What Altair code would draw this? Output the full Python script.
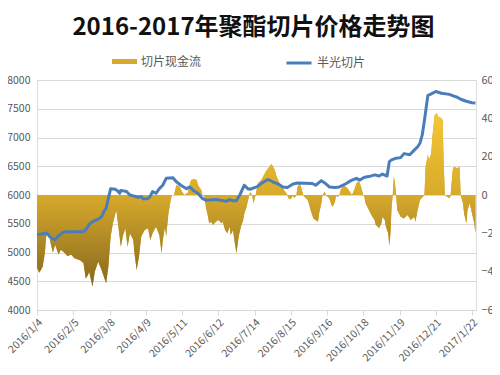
import altair as alt
import pandas as pd

START = "2016-01-04"
END = "2017-01-25 12:00"

# 半光切片 price (left axis), day offsets from 2016-01-04
price_days = [0, 7, 9, 11, 14, 16, 19, 23, 26, 41, 44, 46, 49, 54, 57, 59, 61, 63, 65, 69,
              71, 73, 74, 79, 82, 86, 89, 92, 94, 98, 100, 102, 105, 108, 111, 114, 120, 123, 127, 132,
              135, 138, 142, 146, 149, 158, 167, 170, 173, 176, 179, 183, 186, 188, 194, 199, 204, 208, 213, 217,
              221, 226, 230, 243, 246, 251, 254, 258, 263, 267, 273, 277, 282, 285, 289, 293, 298, 302, 305, 309,
              311, 313, 317, 321, 324, 329, 333, 336, 338, 340, 342, 345, 348, 352, 357, 364, 368, 371, 374, 379,
              384, 387]
price_values = [5310, 5330, 5340, 5280, 5240, 5220, 5290, 5350, 5360, 5360, 5420, 5490, 5535, 5580, 5620, 5710, 5770, 5940, 6110, 6100,
                6075, 6030, 6080, 6060, 6000, 5980, 5960, 5970, 5930, 5940, 5980, 6060, 6030, 6110, 6170, 6290, 6300, 6230, 6170, 6110,
                6140, 6080, 6030, 5940, 5910, 5920, 5890, 5920, 5900, 5900, 6000, 6170, 6110, 6100, 6140, 6215, 6270, 6230, 6190, 6140,
                6130, 6190, 6210, 6200, 6170, 6250, 6210, 6140, 6130, 6140, 6200, 6250, 6290, 6260, 6310, 6320, 6350, 6330, 6365, 6330,
                6580, 6610, 6640, 6650, 6720, 6700, 6780, 6840, 6900, 7040, 7300, 7730, 7760, 7800, 7770, 7750, 7720, 7700, 7665, 7630,
                7605, 7600]

# 切片现金流 (right axis), day offsets from 2016-01-04
flow_days = [0, 2, 5, 7, 8, 10, 12, 14, 16, 19, 21, 24, 27, 30, 33, 38, 41, 43, 45, 46,
             49, 51, 54, 57, 61, 63, 65, 67, 70, 74, 76, 78, 80, 82, 85, 86, 88, 90, 92, 95,
             98, 100, 102, 105, 108, 110, 111, 113, 114, 116, 118, 119, 121, 123, 126, 128, 130, 133, 136, 139,
             141, 142, 145, 146, 148, 149, 151, 152, 154, 155, 158, 160, 163, 164, 166, 168, 170, 171, 173, 174,
             176, 178, 180, 182, 183, 185, 187, 188, 190, 191, 193, 195, 198, 202, 205, 207, 208, 210, 211, 214,
             217, 220, 221, 222, 224, 226, 227, 229, 230, 232, 233, 235, 236, 239, 242, 244, 246, 248, 249, 251,
             252, 254, 255, 258, 260, 261, 263, 264, 265, 267, 268, 271, 274, 277, 278, 280, 282, 284, 286, 288,
             289, 290, 293, 296, 298, 299, 301, 302, 304, 305, 307, 308, 310, 311, 312, 313, 314, 315, 316, 317,
             318, 321, 324, 327, 330, 333, 334, 336, 338, 342, 343, 345, 346, 348, 349, 351, 353, 354, 357, 358,
             359, 360, 362, 364, 365, 367, 368, 371, 373, 374, 376, 377, 379, 380, 382, 384, 386, 387]
flow_values = [-380, -405, -374, -300, -220, -190, -250, -300, -260, -310, -285, -300, -320, -310, -330, -340, -355, -435, -417, -400,
               -478, -400, -348, -391, -461, -374, -217, -148, -78, -270, -209, -174, -270, -200, -235, -304, -391, -322, -217, -183,
               -174, -235, -200, -165, -209, -304, -235, -165, -217, -96, -26, 0, 0, 52, 43, 17, 0, 10, 78, 82,
               78, 52, 26, 0, -9, -61, -113, -148, -139, -157, -139, -130, -148, -139, -183, -200, -165, -209, -183, -226,
               -304, -217, -165, -130, -96, -61, -9, 15, 0, -43, 0, 61, 78, 122, 148, 162, 151, 130, 104, 61,
               35, 9, 0, -17, -22, 0, -17, 0, 43, 57, 43, 0, -9, -26, -87, -122, -130, -139, -96, -43,
               0, 17, 0, -17, -52, -61, -35, 0, -12, 0, 26, 50, 35, 9, 0, 26, 61, 75, 43, 0,
               -9, -43, -78, -113, -130, -157, -165, -174, -148, -113, -130, -165, -200, -265, -200, -60, 0, 96, 60, 0,
               -78, -113, -122, -104, -130, -113, -139, -78, -26, 0, 148, 209, 183, 217, 304, 417, 426, 409, 400, 391,
               165, 0, -9, -17, -5, 130, 148, 139, 148, 0, -43, -96, -148, -78, -43, -96, -148, -200]

tick_dates = ["2016-01-04", "2016-02-05", "2016-03-08", "2016-04-09", "2016-05-11", "2016-06-12", "2016-07-14",
              "2016-08-15", "2016-09-16", "2016-10-18", "2016-11-19", "2016-12-21", "2017-01-22"]
left_ticks = [4000, 4500, 5000, 5500, 6000, 6500, 7000, 7500, 8000]
right_ticks = [-600, -400, -200, 0, 200, 400, 600]

start = pd.Timestamp(START)


def ms(ts):
    return int(pd.Timestamp(ts).value // 10**6)


def to_dates(days):
    return [(start + pd.Timedelta(days=d)).strftime("%Y-%m-%d") for d in days]


line_df = pd.DataFrame({"date": to_dates(price_days), "price": price_values, "series": "半光切片"})
flow_df = pd.DataFrame({"date": to_dates(flow_days), "flow": flow_values, "series": "切片现金流"})

FONT = "Noto Sans CJK SC"
GREY = "#595959"

x_enc = alt.X(
    "date:T",
    title=None,
    scale=alt.Scale(type="utc", domain=[ms(START), ms(END)]),
    axis=alt.Axis(
        values=[ms(t) for t in tick_dates],
        format="%Y/%-m/%-d",
        labelAngle=-45,
        labelColor=GREY,
        labelFont=FONT,
        labelFontSize=10.5,
        domainColor="#D9D9D9",
        tickColor="#D9D9D9",
        tickSize=5,
        grid=False,
        labelOverlap=False,
    ),
)

gold = alt.Gradient(
    gradient="linear",
    stops=[
        alt.GradientStop(color="#F4C734", offset=0),
        alt.GradientStop(color="#D8AA2B", offset=0.47),
        alt.GradientStop(color="#86681F", offset=1),
    ],
    x1=0, x2=0, y1=0, y2=1,
)

flow_scale = alt.Scale(domain=[-600, 600])

proxy = alt.Chart(flow_df).mark_area(interpolate="linear").encode(
    x=x_enc,
    y=alt.Y("flow:Q", scale=flow_scale, axis=None),
    fill=alt.Fill(
        "series:N",
        title=None,
        scale=alt.Scale(range=["#D6A82B"]),
        legend=alt.Legend(
            orient="none", legendX=75, legendY=-31,
            symbolType="M-1,-0.2L1,-0.2L1,0.2L-1,0.2Z", symbolSize=625,
            symbolStrokeWidth=0, labelFont=FONT, labelFontSize=12, labelColor=GREY,
            labelOffset=4,
        ),
    ),
)

area = alt.Chart(flow_df).mark_area(fill=gold, interpolate="linear").encode(
    x=x_enc,
    y=alt.Y(
        "flow:Q", title=None, scale=flow_scale,
        axis=alt.Axis(orient="right", values=right_ticks, grid=False, ticks=False, domain=False,
                      labelColor=GREY, labelFont=FONT, labelFontSize=11, labelPadding=5),
    ),
)

line = alt.Chart(line_df).mark_line(strokeWidth=3, interpolate="linear", strokeJoin="round").encode(
    x=x_enc,
    y=alt.Y(
        "price:Q", title=None, scale=alt.Scale(domain=[4000, 8000]),
        axis=alt.Axis(orient="left", values=left_ticks, format="d", grid=True, gridColor="#D9D9D9",
                      ticks=False, domain=False, labelColor=GREY, labelFont=FONT, labelFontSize=10.5,
                      labelPadding=7),
    ),
    stroke=alt.Stroke(
        "series:N",
        title=None,
        scale=alt.Scale(range=["#4A7EBB"]),
        legend=alt.Legend(
            orient="none", legendX=248, legendY=-31,
            symbolType="stroke", symbolSize=625, symbolStrokeWidth=3,
            labelFont=FONT, labelFontSize=12, labelColor=GREY, labelOffset=4,
        ),
    ),
)

chart = alt.layer(proxy, area, line).resolve_scale(
    y="independent", fill="independent", stroke="independent"
).properties(
    width=439,
    height=230,
    autosize="none",
    padding={"left": 29, "top": 72, "right": 16, "bottom": 57},
    title=alt.TitleParams(
        "2016-2017年聚酯切片价格走势图",
        font=FONT, fontSize=24, fontWeight="bold", color="#111111", anchor="middle", dx=-3,
        offset=9,
    ),
).configure_view(stroke=None).configure(background="white")

chart.save("out.html", embed_options={"renderer": "svg", "actions": False})
